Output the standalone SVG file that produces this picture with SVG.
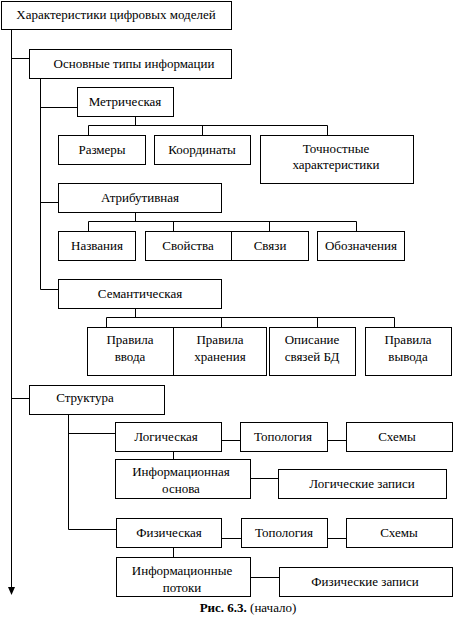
<svg xmlns="http://www.w3.org/2000/svg" width="453" height="635" viewBox="0 0 453 635">
<style>
rect{fill:#fff;stroke:#000;stroke-width:1}
.c line,.c polyline{stroke:#000;stroke-width:1;fill:none}
.t{font-family:'Liberation Serif',serif;font-size:13px;fill:#000;text-anchor:middle}
</style>
<g class="c" id="connectors">
<line x1="11.5" y1="29" x2="11.5" y2="588"/>
<path d="M8,587 L15,587 L11.5,595 Z" fill="#000"/>
<line x1="11.5" y1="58.5" x2="29" y2="58.5"/>
<line x1="11.5" y1="398.5" x2="29" y2="398.5"/>
<line x1="40.5" y1="78" x2="40.5" y2="289.5"/>
<line x1="40.5" y1="107.5" x2="77" y2="107.5"/>
<line x1="40.5" y1="202.5" x2="58" y2="202.5"/>
<line x1="40.5" y1="289.5" x2="58" y2="289.5"/>
<line x1="135.5" y1="116" x2="135.5" y2="125.5"/>
<polyline points="88.5,135 88.5,125.5 327.5,125.5 327.5,135"/>
<line x1="202.5" y1="125.5" x2="202.5" y2="135"/>
<line x1="135.5" y1="212" x2="135.5" y2="221.5"/>
<polyline points="88.5,231 88.5,221.5 356.5,221.5 356.5,231"/>
<line x1="173.5" y1="221.5" x2="173.5" y2="231"/>
<line x1="269.5" y1="221.5" x2="269.5" y2="231"/>
<line x1="135.5" y1="308" x2="135.5" y2="317.5"/>
<polyline points="106.5,327 106.5,317.5 394.5,317.5 394.5,327"/>
<line x1="221.5" y1="317.5" x2="221.5" y2="327"/>
<line x1="317.5" y1="317.5" x2="317.5" y2="327"/>
<line x1="68.5" y1="414" x2="68.5" y2="529.5"/>
<line x1="68.5" y1="433.5" x2="115" y2="433.5"/>
<line x1="68.5" y1="529.5" x2="116" y2="529.5"/>
<line x1="221" y1="440.5" x2="240" y2="440.5"/>
<line x1="327" y1="440.5" x2="346" y2="440.5"/>
<line x1="173.5" y1="451" x2="173.5" y2="459"/>
<line x1="250" y1="478.5" x2="278" y2="478.5"/>
<line x1="221" y1="538.5" x2="241" y2="538.5"/>
<line x1="327" y1="538.5" x2="346" y2="538.5"/>
<line x1="173.5" y1="547" x2="173.5" y2="557"/>
<line x1="250" y1="577.5" x2="279" y2="577.5"/>
</g>
<g id="n-root"><rect x="1.5" y="1.5" width="230" height="28"/><text class="t" font-family="'Liberation Serif', serif" x="116" y="19">Характеристики цифровых моделей</text></g>
<g id="n-types"><rect x="29.5" y="49.5" width="202" height="29"/><text class="t" font-family="'Liberation Serif', serif" x="134" y="68">Основные типы информации</text></g>
<g id="n-metric"><rect x="77.5" y="87.5" width="96" height="29"/><text class="t" font-family="'Liberation Serif', serif" x="125" y="106">Метрическая</text></g>
<g id="n-sizes"><rect x="58.5" y="135.5" width="87" height="29"/><text class="t" font-family="'Liberation Serif', serif" x="102" y="154">Размеры</text></g>
<g id="n-coords"><rect x="154.5" y="135.5" width="96" height="29"/><text class="t" font-family="'Liberation Serif', serif" x="202" y="154">Координаты</text></g>
<g id="n-accuracy"><rect x="260.5" y="135.5" width="153" height="48"/><text class="t" font-family="'Liberation Serif', serif" x="336" y="153">Точностные</text><text class="t" font-family="'Liberation Serif', serif" x="336" y="169">характеристики</text></g>
<g id="n-attr"><rect x="58.5" y="183.5" width="163" height="29"/><text class="t" font-family="'Liberation Serif', serif" x="140" y="202">Атрибутивная</text></g>
<g id="n-names"><rect x="58.5" y="231.5" width="77" height="29"/><text class="t" font-family="'Liberation Serif', serif" x="97" y="250">Названия</text></g>
<g id="n-props"><rect x="145.5" y="231.5" width="86" height="29"/><text class="t" font-family="'Liberation Serif', serif" x="188" y="250">Свойства</text></g>
<g id="n-links"><rect x="231.5" y="231.5" width="77" height="29"/><text class="t" font-family="'Liberation Serif', serif" x="270" y="250">Связи</text></g>
<g id="n-notation"><rect x="317.5" y="231.5" width="87" height="29"/><text class="t" font-family="'Liberation Serif', serif" x="361" y="250">Обозначения</text></g>
<g id="n-semantic"><rect x="58.5" y="279.5" width="163" height="29"/><text class="t" font-family="'Liberation Serif', serif" x="140" y="298">Семантическая</text></g>
<g id="n-input"><rect x="87.5" y="327.5" width="86" height="48"/><text class="t" font-family="'Liberation Serif', serif" x="130" y="344">Правила</text><text class="t" font-family="'Liberation Serif', serif" x="130" y="361">ввода</text></g>
<g id="n-storage"><rect x="173.5" y="327.5" width="93" height="48"/><text class="t" font-family="'Liberation Serif', serif" x="220" y="344">Правила</text><text class="t" font-family="'Liberation Serif', serif" x="220" y="361">хранения</text></g>
<g id="n-dblinks"><rect x="269.5" y="327.5" width="86" height="48"/><text class="t" font-family="'Liberation Serif', serif" x="312" y="344">Описание</text><text class="t" font-family="'Liberation Serif', serif" x="312" y="361">связей БД</text></g>
<g id="n-output"><rect x="365.5" y="327.5" width="86" height="48"/><text class="t" font-family="'Liberation Serif', serif" x="408" y="344">Правила</text><text class="t" font-family="'Liberation Serif', serif" x="408" y="361">вывода</text></g>
<g id="n-struct"><rect x="29.5" y="385.5" width="135" height="29"/><text class="t" font-family="'Liberation Serif', serif" x="85" y="402">Структура</text></g>
<g id="n-logical"><rect x="115.5" y="422.5" width="106" height="29"/><text class="t" font-family="'Liberation Serif', serif" x="166" y="441">Логическая</text></g>
<g id="n-topo1"><rect x="240.5" y="422.5" width="87" height="29"/><text class="t" font-family="'Liberation Serif', serif" x="283" y="441">Топология</text></g>
<g id="n-schemes1"><rect x="346.5" y="422.5" width="106" height="29"/><text class="t" font-family="'Liberation Serif', serif" x="397" y="441">Схемы</text></g>
<g id="n-infobase"><rect x="115.5" y="459.5" width="135" height="39"/><text class="t" font-family="'Liberation Serif', serif" x="181" y="476">Информационная</text><text class="t" font-family="'Liberation Serif', serif" x="181" y="493">основа</text></g>
<g id="n-logrec"><rect x="278.5" y="469.5" width="168" height="29"/><text class="t" font-family="'Liberation Serif', serif" x="362" y="488">Логические записи</text></g>
<g id="n-physical"><rect x="116.5" y="518.5" width="105" height="29"/><text class="t" font-family="'Liberation Serif', serif" x="169" y="537">Физическая</text></g>
<g id="n-topo2"><rect x="241.5" y="518.5" width="86" height="29"/><text class="t" font-family="'Liberation Serif', serif" x="284" y="537">Топология</text></g>
<g id="n-schemes2"><rect x="346.5" y="518.5" width="106" height="29"/><text class="t" font-family="'Liberation Serif', serif" x="399" y="537">Схемы</text></g>
<g id="n-infoflows"><rect x="116.5" y="557.5" width="134" height="39"/><text class="t" font-family="'Liberation Serif', serif" x="182" y="575">Информационные</text><text class="t" font-family="'Liberation Serif', serif" x="182" y="592">потоки</text></g>
<g id="n-physrec"><rect x="279.5" y="567.5" width="173" height="29"/><text class="t" font-family="'Liberation Serif', serif" x="365" y="586">Физические записи</text></g>
<text class="t" font-family="'Liberation Serif', serif" x="248" y="612"><tspan font-weight="bold">Рис. 6.3.</tspan> (начало)</text>
</svg>
